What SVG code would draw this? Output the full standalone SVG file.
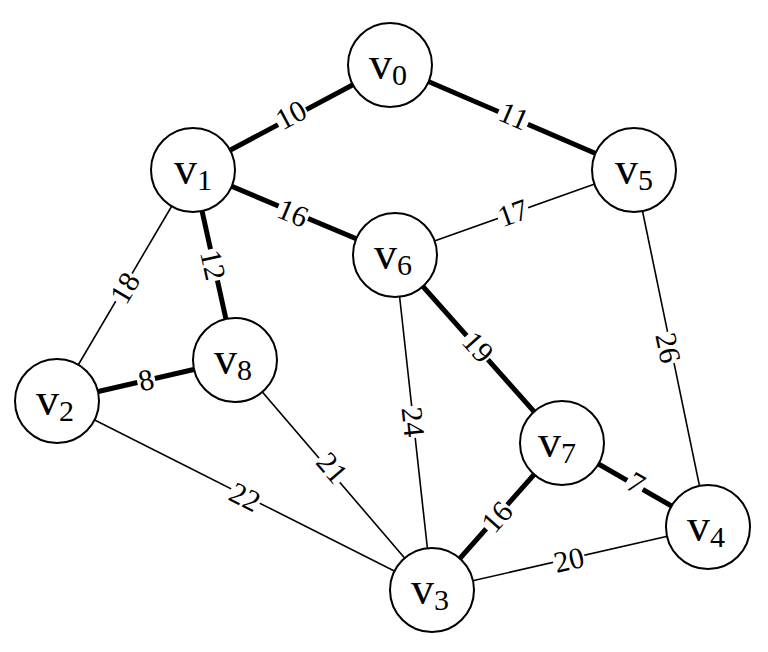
<svg xmlns="http://www.w3.org/2000/svg" width="768" height="652" viewBox="0 0 768 652">
<style>
.thin{stroke:#000;stroke-width:1.6;fill:none}
.thick{stroke:#000;stroke-width:5;fill:none}
.node circle{fill:#fff;stroke:#000;stroke-width:2}
.node text{font-size:46px;text-anchor:middle;fill:#000}
.sub{font-size:30px}
.lbl rect{fill:#fff}
.lbl text{font-size:30px;text-anchor:middle;fill:#000}
</style>
<rect width="768" height="652" fill="#fff"/>
<g id="connectors" font-family="Liberation Serif, serif">
<line class="thick" x1="390" y1="65" x2="193" y2="170"/>
<line class="thick" x1="390" y1="65" x2="634" y2="170"/>
<line class="thick" x1="193" y1="170" x2="395" y2="255"/>
<line class="thin" x1="193" y1="170" x2="57" y2="401"/>
<line class="thick" x1="193" y1="170" x2="235" y2="360"/>
<line class="thin" x1="395" y1="255" x2="634" y2="170"/>
<line class="thin" x1="634" y1="170" x2="708" y2="527"/>
<line class="thick" x1="395" y1="255" x2="562" y2="443"/>
<line class="thin" x1="395" y1="255" x2="432" y2="590"/>
<line class="thick" x1="57" y1="401" x2="235" y2="360"/>
<line class="thin" x1="235" y1="360" x2="432" y2="590"/>
<line class="thin" x1="57" y1="401" x2="432" y2="590"/>
<line class="thick" x1="562" y1="443" x2="708" y2="527"/>
<line class="thick" x1="562" y1="443" x2="432" y2="590"/>
<line class="thin" x1="432" y1="590" x2="708" y2="527"/>
<g class="lbl" transform="translate(291,115) rotate(-28)"><rect x="-16" y="-12" width="32" height="24"/><text y="10">10</text></g>
<g class="lbl" transform="translate(514,116) rotate(23.3)"><rect x="-16" y="-12" width="32" height="24"/><text y="10">11</text></g>
<g class="lbl" transform="translate(293,213) rotate(22.8)"><rect x="-16" y="-12" width="32" height="24"/><text y="10">16</text></g>
<g class="lbl" transform="translate(125,288) rotate(-59.5)"><rect x="-16" y="-12" width="32" height="24"/><text y="10">18</text></g>
<g class="lbl" transform="translate(213,265) rotate(77.5)"><rect x="-16" y="-12" width="32" height="24"/><text y="10">12</text></g>
<g class="lbl" transform="translate(513,213) rotate(-19.6)"><rect x="-16" y="-12" width="32" height="24"/><text y="10">17</text></g>
<g class="lbl" transform="translate(668,348) rotate(78.3)"><rect x="-16" y="-12" width="32" height="24"/><text y="10">26</text></g>
<g class="lbl" transform="translate(478,347) rotate(48.4)"><rect x="-16" y="-12" width="32" height="24"/><text y="10">19</text></g>
<g class="lbl" transform="translate(413,422) rotate(83.7)"><rect x="-16" y="-12" width="32" height="24"/><text y="10">24</text></g>
<g class="lbl" transform="translate(146,380) rotate(-13)"><rect x="-9" y="-12" width="18" height="24"/><text y="10">8</text></g>
<g class="lbl" transform="translate(332,468) rotate(49.4)"><rect x="-16" y="-12" width="32" height="24"/><text y="10">21</text></g>
<g class="lbl" transform="translate(245,497) rotate(26.7)"><rect x="-16" y="-12" width="32" height="24"/><text y="10">22</text></g>
<g class="lbl" transform="translate(636,483) rotate(29.9)"><rect x="-9" y="-12" width="18" height="24"/><text y="10">7</text></g>
<g class="lbl" transform="translate(497,517) rotate(-48.5)"><rect x="-16" y="-12" width="32" height="24"/><text y="10">16</text></g>
<g class="lbl" transform="translate(569,560) rotate(-12.9)"><rect x="-16" y="-12" width="32" height="24"/><text y="10">20</text></g>
</g>
<g font-family="Liberation Serif, serif">
<g id="v0" class="node"><circle cx="390" cy="65" r="42"/><text x="388" y="79">v<tspan class="sub" dy="6">0</tspan></text></g>
<g id="v1" class="node"><circle cx="193" cy="170" r="42"/><text x="193" y="184">v<tspan class="sub" dy="6">1</tspan></text></g>
<g id="v2" class="node"><circle cx="57" cy="401" r="42"/><text x="55" y="415">v<tspan class="sub" dy="6">2</tspan></text></g>
<g id="v3" class="node"><circle cx="432" cy="590" r="42"/><text x="430" y="604">v<tspan class="sub" dy="6">3</tspan></text></g>
<g id="v4" class="node"><circle cx="708" cy="527" r="42"/><text x="706" y="541">v<tspan class="sub" dy="6">4</tspan></text></g>
<g id="v5" class="node"><circle cx="634" cy="170" r="42"/><text x="634" y="184">v<tspan class="sub" dy="6">5</tspan></text></g>
<g id="v6" class="node"><circle cx="395" cy="255" r="42"/><text x="393" y="269">v<tspan class="sub" dy="6">6</tspan></text></g>
<g id="v7" class="node"><circle cx="562" cy="443" r="42"/><text x="557" y="457">v<tspan class="sub" dy="6">7</tspan></text></g>
<g id="v8" class="node"><circle cx="235" cy="360" r="42"/><text x="233" y="374">v<tspan class="sub" dy="6">8</tspan></text></g>
</g>
</svg>
